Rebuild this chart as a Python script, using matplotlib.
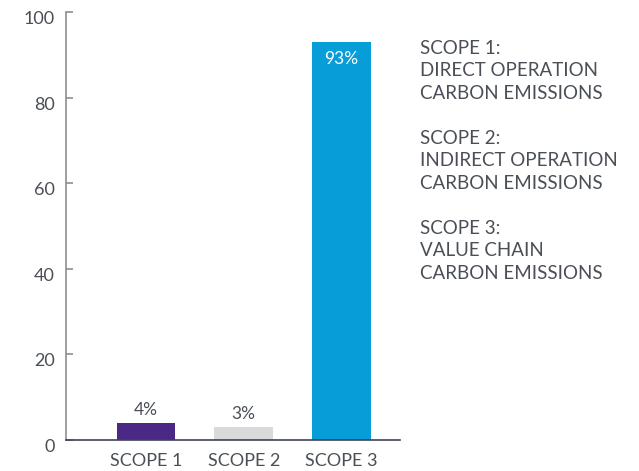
import matplotlib
matplotlib.use("Agg")
from matplotlib import pyplot as plt
from matplotlib.transforms import ScaledTranslation

scopes = ["SCOPE 1", "SCOPE 2", "SCOPE 3"]
shares = [4, 3, 93]
colors = ["#4b2885", "#d9dadb", "#079dd9"]
notes = [
    ["SCOPE 1:", "DIRECT OPERATION", "CARBON EMISSIONS"],
    ["SCOPE 2:", "INDIRECT OPERATION", "CARBON EMISSIONS"],
    ["SCOPE 3:", "VALUE CHAIN", "CARBON EMISSIONS"],
]

text_color = "#4a4f57"
plt.rcParams["font.family"] = ["Lato", "DejaVu Sans"]

fig = plt.figure(figsize=(6.39, 4.71), dpi=100)
ax = fig.add_axes([0.1033, 0.0658, 0.5227, 0.9087])

x = list(range(len(scopes)))
bars = ax.bar(x, shares, width=0.6, color=colors)

# value labels: above the small bars, inside the tall one
for b, v in zip(bars, shares):
    cx = b.get_x() + b.get_width() / 2
    if v > 50:
        ax.text(cx, v - 2.2, f"{v}%", ha="center", va="top", color="white", fontsize=12.5)
    else:
        ax.text(cx, v + 1.2, f"{v}%", ha="center", va="bottom", color=text_color, fontsize=12.5)

ax.set_xlim(-0.82, 2.6)
ax.set_ylim(0, 100)
ax.set_yticks([0, 20, 40, 60, 80, 100])
ax.set_xticks(x)
ax.set_xticklabels(scopes)

for s in ["top", "right"]:
    ax.spines[s].set_visible(False)
ax.spines["left"].set_color("#8c8f94")
ax.spines["left"].set_linewidth(1.2)
ax.spines["bottom"].set_color("#3d4450")
ax.spines["bottom"].set_linewidth(1.2)

ax.tick_params(axis="y", direction="in", length=5, width=1.2, color="#8c8f94",
               labelsize=13, labelcolor=text_color, pad=8)
ax.tick_params(axis="x", length=0, labelsize=13, labelcolor=text_color, pad=9)

# y labels sit a little below their ticks
shift = ScaledTranslation(0, -4 / 72, fig.dpi_scale_trans)
for lab in ax.get_yticklabels():
    lab.set_transform(lab.get_transform() + shift)

# notes on the right, one line at a time
for i, group in enumerate(notes):
    for j, line in enumerate(group):
        base = 54 + i * 90 + j * 22.3
        fig.text(420 / 639, 1 - base / 471, line, ha="left", va="baseline",
                 color=text_color, fontsize=13.5)

fig.savefig("out.png", dpi=100)
